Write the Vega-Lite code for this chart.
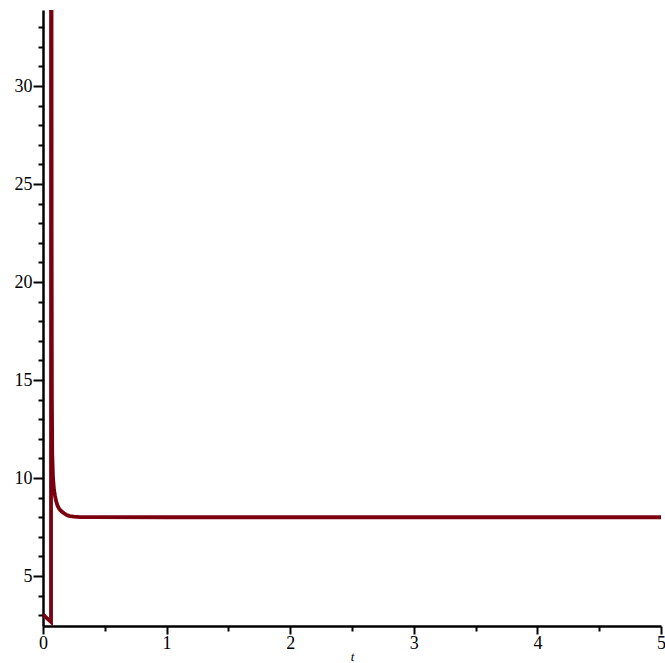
{
  "$schema": "https://vega.github.io/schema/vega-lite/v6.json",
  "width": 618,
  "height": 616,
  "autosize": {"type": "none"},
  "padding": {"left": 43, "top": 10, "right": 4, "bottom": 37},
  "background": "white",
  "config": {"view": {"stroke": null}, "font": "Liberation Serif, Times New Roman, serif"},
  "data": {"values": [
    {"t": 0, "y": 3.05},
    {"t": 0.02, "y": 2.92},
    {"t": 0.04, "y": 2.8},
    {"t": 0.06, "y": 2.68},
    {"t": 0.065, "y": 2.65},
    {"t": 0.0652, "y": 60},
    {"t": 0.0665, "y": 60},
    {"t": 0.069, "y": 34},
    {"t": 0.070, "y": 22},
    {"t": 0.072, "y": 14},
    {"t": 0.075, "y": 11.2},
    {"t": 0.081, "y": 10.0},
    {"t": 0.089, "y": 9.4},
    {"t": 0.097, "y": 9.1},
    {"t": 0.105, "y": 8.85},
    {"t": 0.117, "y": 8.6},
    {"t": 0.129, "y": 8.45},
    {"t": 0.142, "y": 8.35},
    {"t": 0.154, "y": 8.28},
    {"t": 0.17, "y": 8.2},
    {"t": 0.186, "y": 8.13},
    {"t": 0.2, "y": 8.09},
    {"t": 0.218, "y": 8.06},
    {"t": 0.25, "y": 8.03},
    {"t": 0.3, "y": 8.01},
    {"t": 0.4, "y": 8.0},
    {"t": 1, "y": 8.0},
    {"t": 2, "y": 8.0},
    {"t": 3, "y": 8.0},
    {"t": 4, "y": 8.0},
    {"t": 5, "y": 8.0}
  ]},
  "mark": {"type": "line", "color": "#7a0010", "strokeWidth": 3.8, "clip": true},
  "encoding": {
    "x": {
      "field": "t", "type": "quantitative",
      "scale": {"domain": [0, 5], "nice": false, "zero": false},
      "axis": {
        "title": "t",
        "titleFont": "Liberation Serif, Times New Roman, serif",
        "titleFontStyle": "italic",
        "titleFontWeight": "normal",
        "titleFontSize": 13,
        "titleColor": "black",
        "titlePadding": -2,
        "values": [0, 0.5, 1, 1.5, 2, 2.5, 3, 3.5, 4, 4.5, 5],
        "labelExpr": "datum.value % 1 == 0 ? format(datum.value, 'd') : ''",
        "labelFont": "Liberation Serif, Times New Roman, serif",
        "labelFontSize": 18,
        "labelColor": "black",
        "labelPadding": 0,
        "labelFlush": false,
        "labelOverlap": false,
        "grid": false,
        "domainColor": "black",
        "domainWidth": 2.5,
        "tickColor": "black",
        "tickWidth": 2,
        "tickSize": {"condition": {"test": "datum.value % 1 == 0", "value": 8}, "value": 5}
      }
    },
    "y": {
      "field": "y", "type": "quantitative",
      "scale": {"domain": [2.45, 33.88], "nice": false, "zero": false},
      "axis": {
        "title": null,
        "values": [3,4,5,6,7,8,9,10,11,12,13,14,15,16,17,18,19,20,21,22,23,24,25,26,27,28,29,30,31,32,33],
        "labelExpr": "datum.value % 5 == 0 ? format(datum.value, 'd') : ''",
        "labelFont": "Liberation Serif, Times New Roman, serif",
        "labelFontSize": 18,
        "labelColor": "black",
        "labelPadding": 1,
        "labelFlush": false,
        "labelOverlap": false,
        "grid": false,
        "domainColor": "black",
        "domainWidth": 2.5,
        "tickColor": "black",
        "tickWidth": 2,
        "tickSize": {"condition": {"test": "datum.value % 5 == 0", "value": 10}, "value": 5}
      }
    }
  }
}
